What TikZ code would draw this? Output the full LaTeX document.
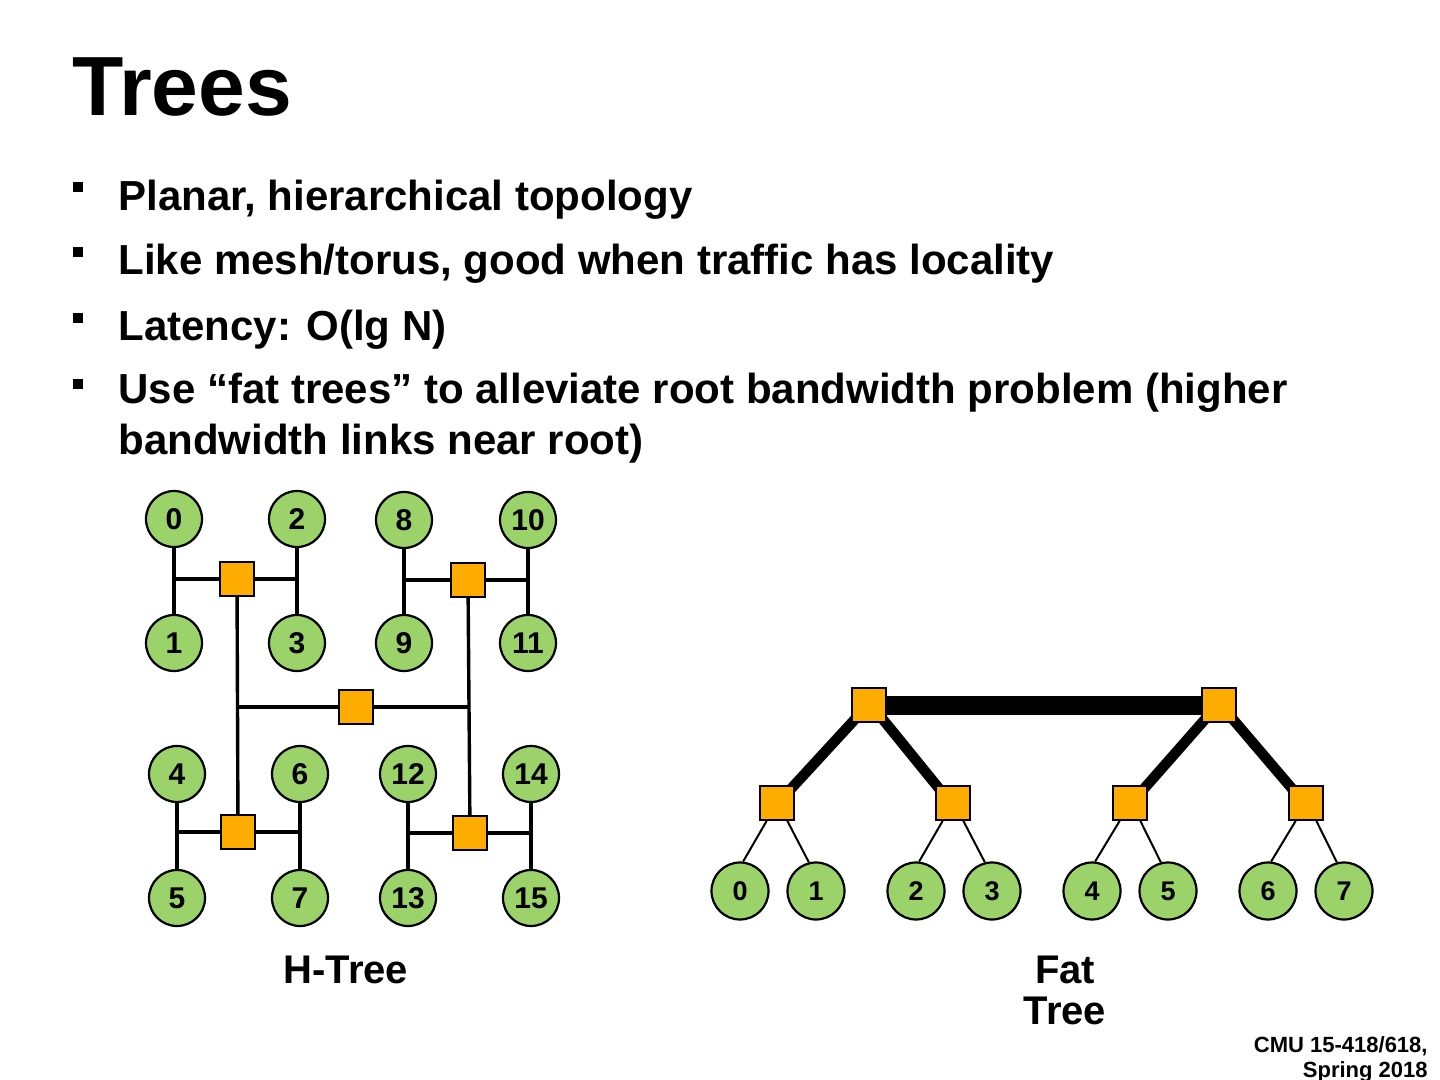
\documentclass[tikz,border=0pt]{standalone}
\usepackage{fontspec}
\setmainfont{Liberation Sans}
\usetikzlibrary{backgrounds,calc}
\definecolor{leafgreen}{RGB}{155,210,105}
\definecolor{swOrange}{RGB}{255,172,0}
\tikzset{
  hnode/.style={circle, draw=black, line width=1.1pt, fill=leafgreen, minimum size=28pt, inner sep=0pt, font=\fontsize{15}{17}\selectfont\bfseries},
  fnode/.style={circle, draw=black, line width=1.1pt, fill=leafgreen, minimum size=28.5pt, inner sep=0pt, font=\fontsize{13.5}{15}\selectfont\bfseries},
  swbox/.style={rectangle, draw=black, line width=0.9pt, fill=swOrange, minimum size=17pt, inner sep=0pt},
  hlink/.style={line width=1.7pt, draw=black},
  fatA/.style={line width=9.5pt, draw=black},
  fatB/.style={line width=5.2pt, draw=black},
  thinlink/.style={line width=1pt, draw=black},
  bulletmark/.style={rectangle, fill=black, minimum size=4.6pt, inner sep=0pt},
  btext/.style={anchor=base west, inner sep=0pt, font=\fontsize{21}{25}\selectfont\bfseries},
  lbl/.style={anchor=base, inner sep=0pt, font=\fontsize{20}{23}\selectfont\bfseries}
}
\begin{document}
\begin{tikzpicture}[x=0.5pt,y=-0.5pt]
\useasboundingbox (0,0) rectangle (1440,1080);
\begin{scope}[on background layer]
\fill[white] (0,0) rectangle (1440,1080);
\end{scope}

% title
\node[anchor=base west, inner sep=0pt, font=\fontsize{42}{46}\selectfont\bfseries] (title) at (72,116) {Trees};

% bullets
\node[bulletmark] (b1) at (78,187) {};
\node[bulletmark] (b2) at (78,252) {};
\node[bulletmark] (b3) at (78,318) {};
\node[bulletmark] (b4) at (78,384) {};
\node[btext] (t1) at (118,211) {Planar, hierarchical topology};
\node[btext] (t2) at (118,275) {Like mesh/torus, good when traffic has locality};
\node[btext] (t3) at (118,341) {Latency: O(lg N)};
\node[btext] (t4) at (118,404) {Use “fat trees” to alleviate root bandwidth problem (higher};
\node[btext] (t5) at (118,454) {bandwidth links near root)};

% ---------------- H-tree ----------------
\node[hnode] (n0)  at (174,519) {0};
\node[hnode] (n2)  at (297,519) {2};
\node[hnode] (n8)  at (404,520) {8};
\node[hnode] (n10) at (528,520) {10};
\node[hnode] (n1)  at (174,643) {1};
\node[hnode] (n3)  at (297,643) {3};
\node[hnode] (n9)  at (404,643) {9};
\node[hnode] (n11) at (528,643) {11};
\node[hnode] (n4)  at (177,774) {4};
\node[hnode] (n6)  at (300,774) {6};
\node[hnode] (n12) at (408,774) {12};
\node[hnode] (n14) at (531,774) {14};
\node[hnode] (n5)  at (177,898) {5};
\node[hnode] (n7)  at (300,898) {7};
\node[hnode] (n13) at (408,898) {13};
\node[hnode] (n15) at (531,898) {15};

\node[swbox] (s1) at (237,579) {};
\node[swbox] (s2) at (468,580) {};
\node[swbox] (hc) at (356,707) {};
\node[swbox] (s3) at (238,832) {};
\node[swbox] (s4) at (470,833) {};

\begin{scope}[on background layer]
\draw[hlink] (n0) -- (n1);
\draw[hlink] (n2) -- (n3);
\draw[hlink] (n8) -- (n9);
\draw[hlink] (n10) -- (n11);
\draw[hlink] (n4) -- (n5);
\draw[hlink] (n6) -- (n7);
\draw[hlink] (n12) -- (n13);
\draw[hlink] (n14) -- (n15);
\draw[hlink] (n0 |- s1) -- (n2 |- s1);
\draw[hlink] (n8 |- s2) -- (n10 |- s2);
\draw[hlink] (n4 |- s3) -- (n6 |- s3);
\draw[hlink] (n12 |- s4) -- (n14 |- s4);
\draw[hlink] (s1) -- (s3);
\draw[hlink] (s2) -- (s4);
\draw[hlink] (s1 |- hc) -- (s2 |- hc);
\end{scope}

\node[lbl] (hlabel) at (346,983) {H-Tree};

% ---------------- Fat tree ----------------
\node[swbox] (f1) at (869,705) {};
\node[swbox] (f2) at (1219,705) {};
\node[swbox] (m1) at (777,803) {};
\node[swbox] (m2) at (953,803) {};
\node[swbox] (m3) at (1130,803) {};
\node[swbox] (m4) at (1306,803) {};

\node[fnode] (l0) at (740,891) {0};
\node[fnode] (l1) at (816,891) {1};
\node[fnode] (l2) at (916,891) {2};
\node[fnode] (l3) at (992,891) {3};
\node[fnode] (l4) at (1092,891) {4};
\node[fnode] (l5) at (1168,891) {5};
\node[fnode] (l6) at (1268,891) {6};
\node[fnode] (l7) at (1344,891) {7};

\begin{scope}[on background layer]
\draw[fatA] (f1) -- (f2);
\draw[fatB] ($(f1.south west)!0.35!(f1.center)$) -- ($(m1.north east)!0.35!(m1.center)$);
\draw[fatB] ($(f1.south east)!0.35!(f1.center)$) -- ($(m2.north west)!0.35!(m2.center)$);
\draw[fatB] ($(f2.south west)!0.35!(f2.center)$) -- ($(m3.north east)!0.35!(m3.center)$);
\draw[fatB] ($(f2.south east)!0.35!(f2.center)$) -- ($(m4.north west)!0.35!(m4.center)$);
\end{scope}
\draw[thinlink] (m1.-120) -- (l0.84);
\draw[thinlink] (m1.-60) -- (l1.104);
\draw[thinlink] (m2.-120) -- (l2.84);
\draw[thinlink] (m2.-60) -- (l3.104);
\draw[thinlink] (m3.-120) -- (l4.84);
\draw[thinlink] (m3.-60) -- (l5.104);
\draw[thinlink] (m4.-120) -- (l6.84);
\draw[thinlink] (m4.-60) -- (l7.104);

\node[lbl] (flabel1) at (1065,983) {Fat};
\node[lbl] (flabel2) at (1065,1024) {Tree};

% footer
\node[anchor=base east, inner sep=0pt, font=\fontsize{11}{13}\selectfont\bfseries] (foot1) at (1428,1052) {CMU 15-418/618,};
\node[anchor=base east, inner sep=0pt, font=\fontsize{11}{13}\selectfont\bfseries] (foot2) at (1428,1077) {Spring 2018};
\end{tikzpicture}
\end{document}
